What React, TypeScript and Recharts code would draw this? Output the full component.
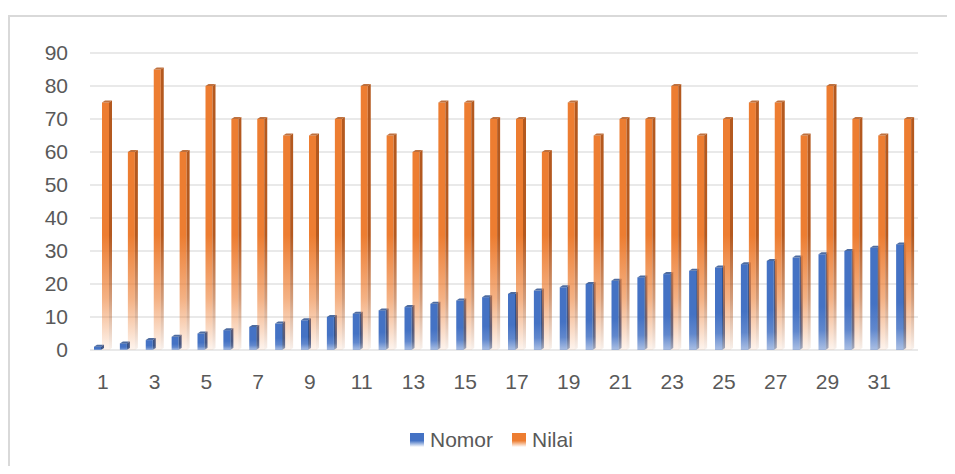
import React from "react";
import { BarChart, Bar, XAxis, YAxis, CartesianGrid, Legend } from "recharts";

const categories = [
  "1", "2", "3", "4", "5", "6", "7", "8", "9", "10", "11", "12", "13", "14", "15", "16",
  "17", "18", "19", "20", "21", "22", "23", "24", "25", "26", "27", "28", "29", "30", "31", "32",
];
const nomor = [
  1, 2, 3, 4, 5, 6, 7, 8, 9, 10, 11, 12, 13, 14, 15, 16,
  17, 18, 19, 20, 21, 22, 23, 24, 25, 26, 27, 28, 29, 30, 31, 32,
];
const nilai = [
  75, 60, 85, 60, 80, 70, 70, 65, 65, 70, 80, 65, 60, 75, 75, 70,
  70, 60, 75, 65, 70, 70, 80, 65, 70, 75, 75, 65, 80, 70, 65, 70,
];
const yTicks = [0, 10, 20, 30, 40, 50, 60, 70, 80, 90];

const data = categories.map((c, i) => ({ cat: c, Nomor: nomor[i], Nilai: nilai[i] }));

const BLUE = "#4472C4";
const BLUE_DARK = "#2F528F";
const ORANGE = "#ED7D31";
const ORANGE_DARK = "#B4591F";
const FONT = "'Liberation Sans', Arial, sans-serif";
const TEXT = "#595959";

function make3DShape(kind: string, color: string, dark: string, fadeLen: number, relMax: number, midOpacity: number, minOpacity: number) {
  return (props: any) => {
    const { x, y, width, height, index } = props;
    if (height == null || height <= 0) return <g />;
    const d = 3;
    const fw = width - d;
    const base = y + height;
    const fl = Math.max(1, Math.min(fadeLen, height * relMax));
    const id = `${kind}-g-${index}`;
    const idd = `${kind}-gd-${index}`;
    return (
      <g>
        <defs>
          <linearGradient id={id} gradientUnits="userSpaceOnUse" x1="0" y1={base - fl} x2="0" y2={base}>
            <stop offset="0" stopColor={color} stopOpacity={1} />
            <stop offset="0.55" stopColor={color} stopOpacity={midOpacity} />
            <stop offset="1" stopColor={color} stopOpacity={minOpacity} />
          </linearGradient>
          <linearGradient id={idd} gradientUnits="userSpaceOnUse" x1="0" y1={base - fl} x2="0" y2={base}>
            <stop offset="0" stopColor={dark} stopOpacity={1} />
            <stop offset="0.55" stopColor={dark} stopOpacity={midOpacity} />
            <stop offset="1" stopColor={dark} stopOpacity={minOpacity} />
          </linearGradient>
        </defs>
        <rect x={x} y={y} width={fw} height={height} fill={`url(#${id})`} />
        <polygon
          points={`${x + fw},${y} ${x + width},${y - 2} ${x + width},${base - 2} ${x + fw},${base}`}
          fill={`url(#${idd})`}
        />
        <polygon
          points={`${x},${y} ${x + d},${y - 2} ${x + width},${y - 2} ${x + fw},${y}`}
          fill={dark}
          opacity={0.85}
        />
      </g>
    );
  };
}

const BlueShape = make3DShape("blue", BLUE, BLUE_DARK, 50, 0.45, 0.85, 0.45);
const OrangeShape = make3DShape("orange", ORANGE, ORANGE_DARK, 115, 1, 0.6, 0.08);

const renderLegend = () => {
  const items = [
    { name: "Nomor", color: BLUE },
    { name: "Nilai", color: ORANGE },
  ];
  return (
    <div style={{ display: "flex", alignItems: "center", fontFamily: FONT, fontSize: 21, color: TEXT }}>
      {items.map((it, i) => (
        <div key={it.name} style={{ display: "flex", alignItems: "center", marginRight: i === 0 ? 19 : 0 }}>
          <span
            style={{
              display: "inline-block",
              width: 14,
              height: 14,
              marginRight: 6,
              background: `linear-gradient(to bottom, ${it.color} 0%, ${it.color} 55%, rgba(255,255,255,0.6) 100%)`,
            }}
          />
          <span>{it.name}</span>
        </div>
      ))}
    </div>
  );
};

export default function App() {
  return (
    <div style={{ position: "relative", width: 939, height: 458, overflow: "hidden" }}>
      <div
        style={{
          position: "absolute",
          left: 0,
          top: 7,
          width: 1200,
          height: 1200,
          borderTop: "2px solid #d9d9d9",
          borderLeft: "2px solid #d9d9d9",
          boxSizing: "border-box",
        }}
      />
      <div style={{ position: "absolute", left: 0, top: 0 }}>
        <BarChart
          width={939}
          height={458}
          data={data}
          margin={{ top: 45, right: 29, left: 0, bottom: 56 }}
          barSize={10}
          barGap={-2}
        >
          <CartesianGrid vertical={false} stroke="#e9e9e9" strokeWidth={2} />
          <XAxis
            dataKey="cat"
            interval={1}
            axisLine={false}
            tickLine={false}
            tickSize={0}
            tickMargin={24}
            height={60}
            tick={{ fill: TEXT, fontSize: 21, fontFamily: FONT }}
          />
          <YAxis
            width={82}
            domain={[0, 90]}
            ticks={yTicks}
            interval={0}
            axisLine={false}
            tickLine={false}
            tickSize={0}
            tickMargin={22}
            tick={{ fill: TEXT, fontSize: 21, fontFamily: FONT }}
          />
          <Legend
            layout="horizontal"
            verticalAlign="middle"
            align="center"
            content={renderLegend}
            wrapperStyle={{ top: 420, left: 402, width: 200, height: 26 }}
          />
          <Bar dataKey="Nomor" name="Nomor" fill={BLUE} shape={BlueShape} isAnimationActive={false} />
          <Bar dataKey="Nilai" name="Nilai" fill={ORANGE} shape={OrangeShape} isAnimationActive={false} />
        </BarChart>
      </div>
    </div>
  );
}
